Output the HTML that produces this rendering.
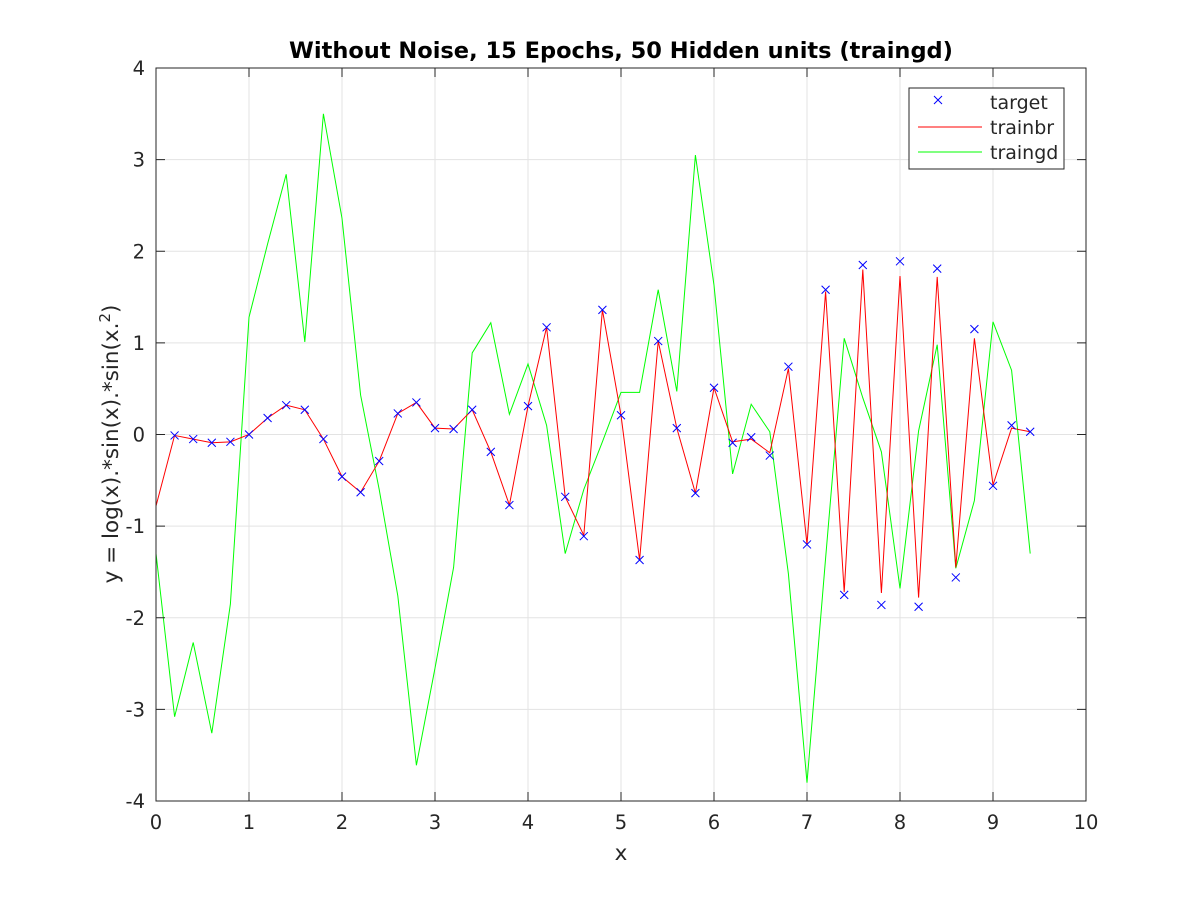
<!DOCTYPE html>
<html><head><meta charset="utf-8"><style>
body{margin:0;background:#fff;}
svg text{font-family:"DejaVu Sans","Liberation Sans",sans-serif;fill:#262626;}
</style></head><body>
<svg id="chart" width="1200" height="900" xmlns="http://www.w3.org/2000/svg">
<rect width="1200" height="900" fill="#fff"/>
<g id="grid"></g>
<g id="series"></g>
<rect x="156" y="68" width="930" height="733" fill="none" stroke="#262626" stroke-width="1"/>
<g id="ticks"></g>
<text x="621" y="58" text-anchor="middle" font-size="22.5" font-weight="bold" style="fill:#000">Without Noise, 15 Epochs, 50 Hidden units (traingd)</text>
<text x="621" y="860" text-anchor="middle" font-size="21.5">x</text>
<text transform="translate(118,444) rotate(-90)" text-anchor="middle" font-size="21.5">y = log(x).*sin(x).*sin(x.<tspan dy="-8" font-size="15">2</tspan><tspan dy="8">)</tspan></text>
<g>
<rect x="909" y="88" width="155" height="81" fill="#fff" stroke="#262626"/>
<g><path d="M934 96l8 8M942 96l-8 8" stroke="#0000ff"/><text x="990" y="109" font-size="19">target</text></g>
<g><line x1="918" y1="127" x2="982" y2="127" stroke="#ff0000"/><text x="990" y="134" font-size="19">trainbr</text></g>
<g><line x1="918" y1="152" x2="982" y2="152" stroke="#00ff00"/><text x="990" y="159" font-size="19">traingd</text></g>
</g>
</svg>
<script>
const targetX=[0.2,0.4,0.6,0.8,1.0,1.2,1.4,1.6,1.8,2.0,2.2,2.4,2.6,2.8,3.0,3.2,3.4,3.6,3.8,4.0,4.2,4.4,4.6,4.8,5.0,5.2,5.4,5.6,5.8,6.0,6.2,6.4,6.6,6.8,7.0,7.2,7.4,7.6,7.8,8.0,8.2,8.4,8.6,8.8,9.0,9.2,9.4];
const targetY=[-0.01,-0.05,-0.09,-0.08,0,0.18,0.32,0.27,-0.05,-0.46,-0.63,-0.29,0.23,0.35,0.07,0.06,0.27,-0.19,-0.77,0.31,1.17,-0.68,-1.11,1.36,0.21,-1.37,1.02,0.07,-0.64,0.51,-0.09,-0.03,-0.23,0.74,-1.2,1.58,-1.75,1.85,-1.86,1.89,-1.88,1.81,-1.56,1.15,-0.56,0.1,0.03];
const netX=[0,0.2,0.4,0.6,0.8,1.0,1.2,1.4,1.6,1.8,2.0,2.2,2.4,2.6,2.8,3.0,3.2,3.4,3.6,3.8,4.0,4.2,4.4,4.6,4.8,5.0,5.2,5.4,5.6,5.8,6.0,6.2,6.4,6.6,6.8,7.0,7.2,7.4,7.6,7.8,8.0,8.2,8.4,8.6,8.8,9.0,9.2,9.4];
const trainbrY=[-0.78,-0.01,-0.05,-0.09,-0.08,0,0.18,0.32,0.27,-0.05,-0.46,-0.63,-0.29,0.23,0.35,0.07,0.06,0.27,-0.19,-0.77,0.31,1.17,-0.68,-1.1,1.36,0.21,-1.37,1.02,0.07,-0.64,0.51,-0.08,-0.05,-0.2,0.72,-1.2,1.56,-1.72,1.8,-1.73,1.73,-1.78,1.72,-1.45,1.05,-0.55,0.07,0.03];
const traingdY=[-1.3,-3.08,-2.27,-3.26,-1.85,1.28,2.08,2.84,1.01,3.5,2.36,0.43,-0.6,-1.76,-3.61,-2.55,-1.45,0.89,1.22,0.22,0.77,0.1,-1.3,-0.6,-0.08,0.46,0.46,1.58,0.47,3.05,1.63,-0.43,0.33,0.03,-1.52,-3.8,-1.35,1.05,0.4,-0.19,-1.68,0.04,0.98,-1.46,-0.72,1.23,0.7,-1.3];
const xTicks=[0,1,2,3,4,5,6,7,8,9,10];
const yTicks=[-4,-3,-2,-1,0,1,2,3,4];
const sx=v=>156+v*93, sy=v=>434.5-v*91.625;
const NS="http://www.w3.org/2000/svg";
const mk=(t,a,p)=>{const e=document.createElementNS(NS,t);for(const k in a)e.setAttribute(k,a[k]);p.appendChild(e);return e;};
const grid=document.getElementById('grid'),ticks=document.getElementById('ticks'),ser=document.getElementById('series');
xTicks.forEach(v=>{
 const g=mk('line',{x1:sx(v),x2:sx(v),y1:68,y2:801,stroke:'#e3e3e3'},grid);
 
 
 const t1=mk('line',{x1:sx(v),x2:sx(v),y1:801,y2:792,stroke:'#262626'},ticks);
 
 
 const t2=mk('line',{x1:sx(v),x2:sx(v),y1:68,y2:77,stroke:'#262626'},ticks);
 
 
 const l=mk('text',{x:sx(v),y:829,'text-anchor':'middle','font-size':'19.5'},ticks);l.textContent=v;
 
 
});
yTicks.forEach(v=>{
 const g=mk('line',{x1:156,x2:1086,y1:sy(v),y2:sy(v),stroke:'#e3e3e3'},grid);
 
 
 const t1=mk('line',{x1:156,x2:165,y1:sy(v),y2:sy(v),stroke:'#262626'},ticks);
 
 
 const t2=mk('line',{x1:1077,x2:1086,y1:sy(v),y2:sy(v),stroke:'#262626'},ticks);
 
 
 const l=mk('text',{x:145,y:sy(v)+7,'text-anchor':'end','font-size':'19.5'},ticks);l.textContent=v;
 
 
});
const gd=mk('polyline',{points:netX.map((x,i)=>sx(x)+','+sy(traingdY[i])).join(' '),fill:'none',stroke:'#00ff00'},ser);


const br=mk('polyline',{points:netX.map((x,i)=>sx(x)+','+sy(trainbrY[i])).join(' '),fill:'none',stroke:'#ff0000'},ser);


targetX.forEach((x,i)=>{
 const cx=sx(x),cy=sy(targetY[i]);
 const m=mk('path',{d:`M${cx-4} ${cy-4}l8 8M${cx+4} ${cy-4}l-8 8`,stroke:'#0000ff'},ser);
 
 
});
</script>
</body></html>
